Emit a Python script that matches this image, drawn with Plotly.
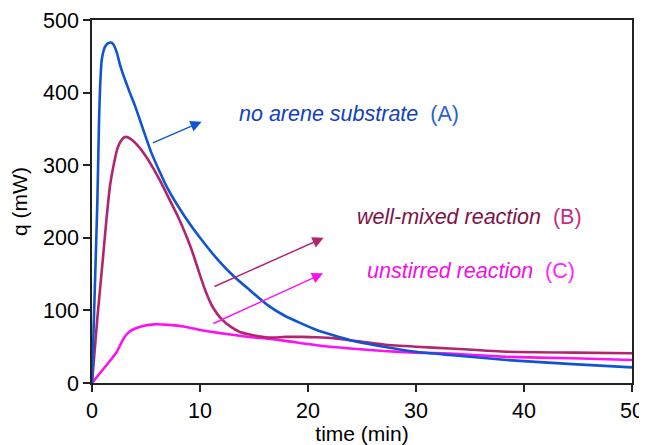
import plotly.graph_objects as go

# Curve A: no arene substrate
t_a = [0, 0.25, 0.5, 0.65, 0.75, 0.9, 1.2, 1.5, 1.76, 2.0, 2.3, 2.6, 3.05, 3.5, 4.0, 5.5, 7.0, 8.6, 10.0,
       11.7, 13.2, 14.6, 16.2, 17.8, 20.8, 23.9, 27, 30, 33.1, 38.4, 44.5, 50]
q_a = [0, 125, 252, 360, 408, 445, 463, 468, 469, 466, 455, 438, 418, 400, 381, 317, 268, 229, 200,
       169, 146, 128, 108, 93, 73, 59, 50, 43, 38.6, 31.7, 26, 21.5]

# Curve B: well-mixed reaction
t_b = [0, 0.5, 1.0, 1.36, 1.67, 2.0, 2.4, 2.8, 3.1, 3.6, 4.3, 5.0, 5.7, 6.4, 7.2, 8.0, 8.8, 9.4, 9.9,
       10.5, 11.2, 12.0, 12.8, 13.6, 14.5, 15.4, 16.5, 17.9, 19.5, 20.8, 22.5, 23.9, 27, 30, 33.1,
       38.4, 44.5, 50]
q_b = [0, 90, 170, 229, 272, 300, 325, 336, 339, 336, 326, 312, 295, 276, 252, 228, 200, 176, 153,
       127, 104, 88, 78, 71, 67, 64.5, 62.5, 63.5, 63.5, 63, 61.5, 59, 53, 50, 47.6,
       43, 41.8, 41]

# Curve C: unstirred reaction
t_c = [0, 0.6, 1.2, 1.8, 2.3, 2.7, 3.05, 3.5, 4.0, 4.8, 5.8, 7.1, 8.6, 10.0, 11.7, 13.2, 14.8, 16.3,
       17.9, 20.8, 23.9, 27, 30, 33.1, 38.4, 44.5, 50]
q_c = [0, 11, 22, 33, 43, 55, 64, 71, 75, 79, 80.8, 80, 77.5, 73, 69, 66, 63, 61,
       58, 52, 47.6, 44, 41.8, 40.5, 36, 34, 31.7]

x_ticks = [0, 10, 20, 30, 40, 50]
y_ticks = [0, 100, 200, 300, 400, 500]

FONT = "Liberation Sans, Arial"
col_a = "#0F55D2"
col_b = "#B3246E"
col_c = "#FF10F2"

fig = go.Figure()
for t, q, c in [(t_c, q_c, col_c), (t_b, q_b, col_b), (t_a, q_a, col_a)]:
    fig.add_trace(go.Scatter(x=t, y=q, mode="lines",
                             line=dict(color=c, width=2.6, shape="spline", smoothing=0.5),
                             showlegend=False, hoverinfo="skip"))

# arrows (head, tail) in data coordinates
arrows = [
    ((10.15, 360), (5.5, 330), col_a),
    ((21.45, 200), (11.2, 132), col_b),
    ((21.4, 151), (11.1, 81), col_c),
]
for (hx, hy), (tx, ty), c in arrows:
    fig.add_annotation(x=hx, y=hy, ax=tx, ay=ty, xref="x", yref="y", axref="x", ayref="y",
                       text="", showarrow=True, arrowhead=2, arrowsize=1.6, arrowwidth=1.4,
                       arrowcolor=c, standoff=0, startstandoff=0)

labels = [
    (23.75, 370, "<i>no arene substrate</i>", "#1240BE", "&nbsp;&nbsp;(A)", "#2A62D2"),
    (34.95, 228, "<i>well-mixed reaction</i>", "#7E1246", "&nbsp;&nbsp;(B)", "#C42C86"),
    (35.05, 154, "<i>unstirred reaction</i>", "#F010E6", "&nbsp;&nbsp;(C)", "#FF22FF"),
]
for x, y, t1, c1, t2, c2 in labels:
    fig.add_annotation(x=x, y=y, xref="x", yref="y", showarrow=False,
                       text=f"<span style='color:{c1}'>{t1}</span><span style='color:{c2}'>{t2}</span>",
                       font=dict(family=FONT, size=21.5))

fig.update_xaxes(range=[0, 50], tickvals=x_ticks, ticks="outside", ticklen=7, tickwidth=1.5,
                 tickcolor="#222", showline=True, linecolor="#222", linewidth=1.5, mirror=True,
                 showgrid=False, zeroline=False, automargin=False,
                 tickfont=dict(family=FONT, size=21.5, color="black"),
                 title=dict(text="time (min)", font=dict(family=FONT, size=21, color="black"),
                            standoff=2))
fig.update_yaxes(range=[0, 500], tickvals=y_ticks, ticks="outside", ticklen=7, tickwidth=1.5,
                 tickcolor="#222", showline=True, linecolor="#222", linewidth=1.5, mirror=True,
                 showgrid=False, zeroline=False, automargin=False,
                 tickfont=dict(family=FONT, size=21.5, color="black"),
                 title=dict(text="q (mW)", font=dict(family=FONT, size=21, color="black"),
                            standoff=16))

# page body has an 8px margin: shrink the figure so the plot area lands where the reference has it
fig.update_layout(width=639, height=437, margin=dict(l=84, r=15, t=12, b=62),
                  plot_bgcolor="white", paper_bgcolor="white")

fig.write_html("out.html")
